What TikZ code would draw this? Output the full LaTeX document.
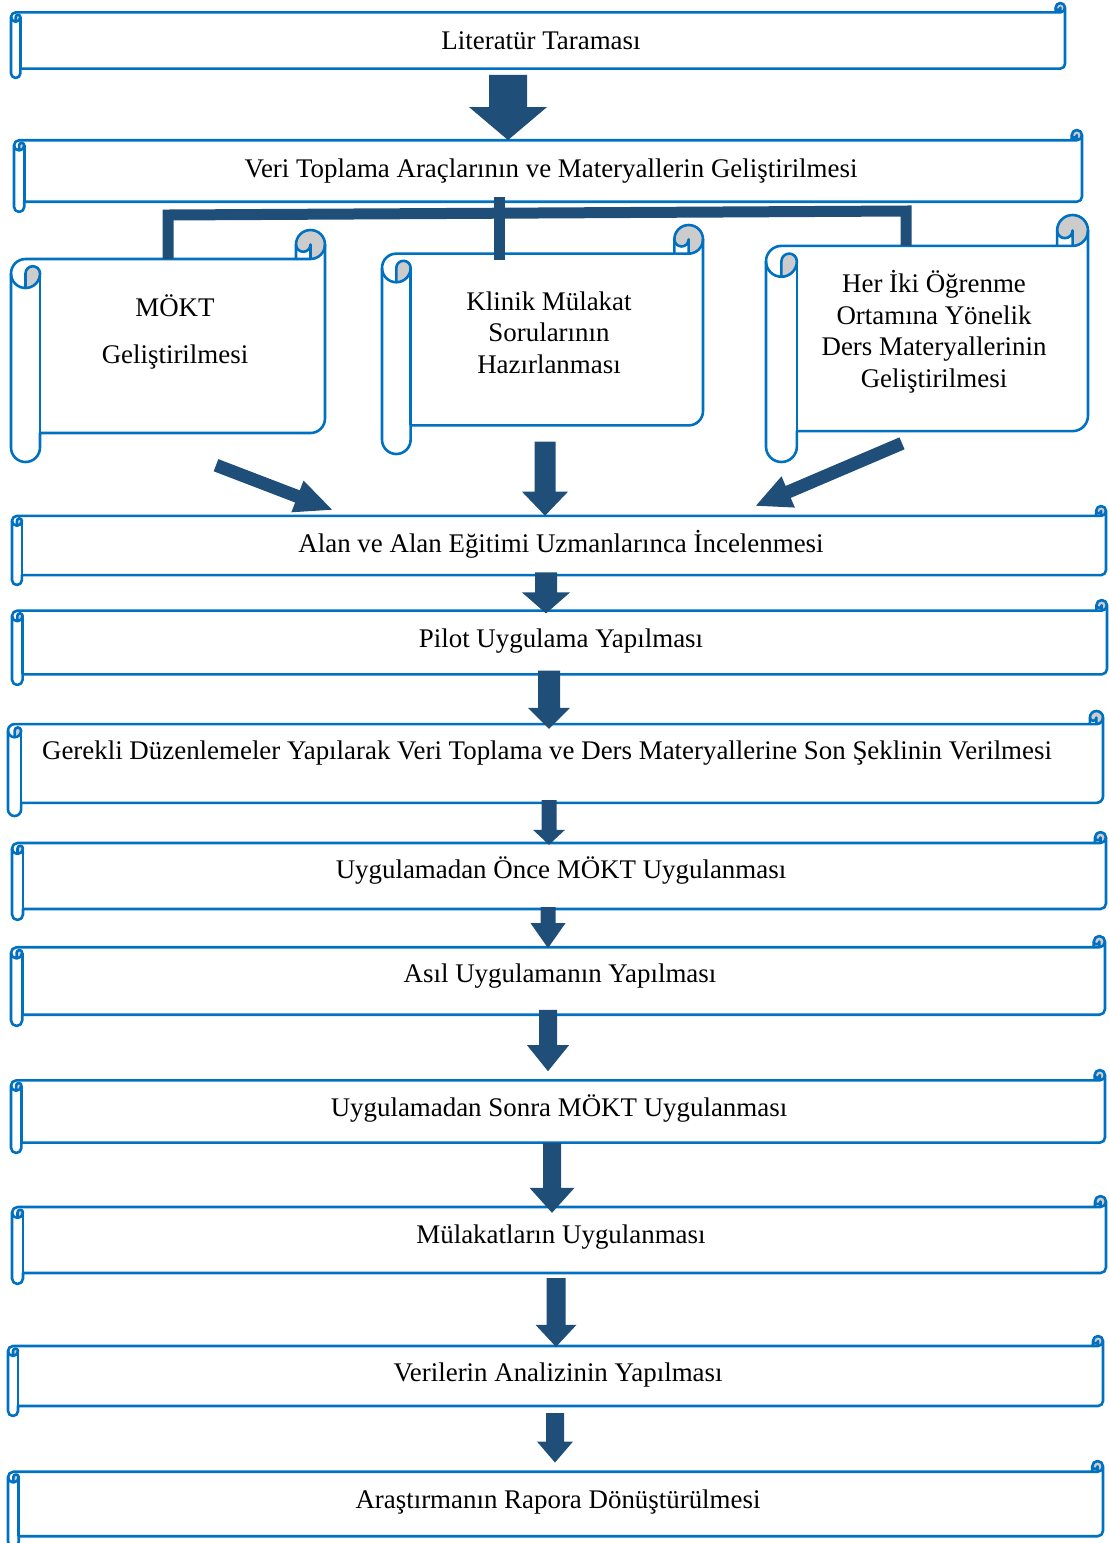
\documentclass[tikz,border=0pt]{standalone}
\usepackage{fontspec}
\setmainfont{Liberation Serif}
\usetikzlibrary{calc}

\definecolor{scrollblue}{RGB}{0,112,192}
\definecolor{arrowblue}{RGB}{31,78,121}
\definecolor{curlgray}{RGB}{204,204,204}

\tikzset{
  scrollline/.style={draw=scrollblue, line width=2.6pt, line join=round},
  scrolltext/.style={font=\fontsize{26.9}{31.5}\selectfont, inner sep=0pt, anchor=base, align=center},
  bar/.style={draw=arrowblue, line width=11pt, line join=miter},
}

% Horizontal scroll: #1 name, #2 left, #3 top, #4 right, #5 bottom (y grows downwards)
\newcommand\hscroll[5]{%
  \pgfmathsetmacro\scL{#2}\pgfmathsetmacro\scT{#3}%
  \pgfmathsetmacro\scR{#4}\pgfmathsetmacro\scB{#5}%
  \pgfmathsetmacro\scC{min(\scR-\scL,\scB-\scT)/8}%
  \pgfmathsetmacro\scH{\scC/2}\pgfmathsetmacro\scQ{\scC/4}%
  \pgfmathsetmacro\scYa{\scT+\scH}%
  \pgfmathsetmacro\scYb{\scT+\scC}%
  \pgfmathsetmacro\scYc{\scT+\scC+\scH}%
  \pgfmathsetmacro\scYd{\scT+2*\scC}%
  \pgfmathsetmacro\scYf{\scB-\scC}%
  \pgfmathsetmacro\scYg{\scB-\scH}%
  \pgfmathsetmacro\scYe{\scYf-\scH}%
  \pgfmathsetmacro\scXa{\scL+\scH}%
  \pgfmathsetmacro\scXb{\scL+\scC}%
  \pgfmathsetmacro\scXc{\scR-\scC}%
  \pgfmathsetmacro\scXd{\scR-\scH}%
  \pgfmathsetmacro\scW{\scR-\scXb}%
  \pgfmathsetmacro\scHt{\scYf-\scYb}%
  \pgfmathsetmacro\scMx{(\scR+\scXb)/2}%
  \pgfmathsetmacro\scMy{(\scYf+\scYb)/2}%
  % rolled-back paper
  \fill[curlgray] (\scXa,\scYd) -- (\scXa,\scYc)
     arc[start angle=180,delta angle=180,radius=\scQ]
     arc[start angle=0,delta angle=90,radius=\scH] -- cycle;
  \fill[curlgray] (\scXd,\scYb)
     arc[start angle=90,delta angle=-90,radius=\scH]
     arc[start angle=0,delta angle=-180,radius=\scH]
     arc[start angle=180,delta angle=-180,radius=\scQ] -- cycle;
  % outline of the sheet
  \draw[scrollline] (\scL,\scYc) arc[start angle=180,delta angle=90,radius=\scH]
     -- (\scXc,\scYb) -- (\scXc,\scYa) arc[start angle=180,delta angle=180,radius=\scH]
     -- (\scR,\scYe) arc[start angle=0,delta angle=90,radius=\scH]
     -- (\scXb,\scYf) -- (\scXb,\scYg) arc[start angle=0,delta angle=180,radius=\scH] -- cycle;
  % right roll
  \draw[scrollline] (\scXc,\scYb) -- (\scXd,\scYb) arc[start angle=90,delta angle=-90,radius=\scH];
  \draw[scrollline] (\scXd,\scYb) -- (\scXd,\scYa) arc[start angle=0,delta angle=180,radius=\scQ];
  % left roll
  \draw[scrollline] (\scXa,\scYd) -- (\scXa,\scYc)
     arc[start angle=180,delta angle=180,radius=\scQ]
     arc[start angle=0,delta angle=180,radius=\scH];
  \draw[scrollline] (\scXb,\scYc) -- (\scXb,\scYf);
  \node[inner sep=0pt, minimum width=\scW pt, minimum height=\scHt pt] (#1) at (\scMx,\scMy) {};
}

% Block arrow: #1 start, #2 tip, #3 half shaft width, #4 half head width, #5 head length
\newcommand\blockarrow[5]{%
  \path (#1) coordinate (ba-s) (#2) coordinate (ba-e);
  \path ($(ba-e)!#5!(ba-s)$) coordinate (ba-h);
  \fill[arrowblue] ($(ba-s)!#3!90:(ba-e)$) -- ($(ba-h)!#3!90:(ba-e)$)
     -- ($(ba-h)!#4!90:(ba-e)$) -- (ba-e) -- ($(ba-h)!#4!-90:(ba-e)$)
     -- ($(ba-h)!#3!-90:(ba-e)$) -- ($(ba-s)!#3!-90:(ba-e)$) -- cycle;
}

\begin{document}
\begin{tikzpicture}[x=1pt, y=-1pt]
\useasboundingbox (0,0) rectangle (1109,1543);

% sheets
\hscroll{b1}{11}{3}{1065}{78}
\hscroll{b2}{14}{130}{1082}{212}
\hscroll{v1}{11}{230}{325}{462}
\hscroll{v2}{382}{225}{703}{454}
\hscroll{v3}{766}{215}{1088}{462}
\hscroll{b3}{12}{506}{1106}{585}
\hscroll{b4}{12}{600}{1107}{685}
\hscroll{b5}{8}{711}{1103}{816}
\hscroll{b6}{12}{832}{1106}{920}
\hscroll{b7}{11}{936}{1105}{1026}
\hscroll{b8}{11}{1070}{1105}{1153}
\hscroll{b9}{12}{1196}{1106}{1284}
\hscroll{b10}{8}{1336}{1103}{1416}
\hscroll{b11}{8}{1461}{1103}{1547}

% labels (multi-line labels sit on the baseline of their last line)
\node[scrolltext] (t1) at (541,49) {Literatür Taraması};
\node[scrolltext] (t2) at (551,177) {Veri Toplama Araçlarının ve Materyallerin Geliştirilmesi};
\node[scrolltext] (tv1) at (175,363) {MÖKT\\[15.5pt]Geliştirilmesi};
\node[scrolltext] (tv2) at (549,373) {Klinik Mülakat\\Sorularının\\Hazırlanması};
\node[scrolltext] (tv3) at (934,387) {Her İki Öğrenme\\Ortamına Yönelik\\Ders Materyallerinin\\Geliştirilmesi};
\node[scrolltext] (t3) at (561,552) {Alan ve Alan Eğitimi Uzmanlarınca İncelenmesi};
\node[scrolltext] (t4) at (561,647) {Pilot Uygulama Yapılması};
\node[scrolltext] (t5) at (547,759) {Gerekli Düzenlemeler Yapılarak Veri Toplama ve Ders Materyallerine Son Şeklinin Verilmesi};
\node[scrolltext] (t6) at (561,878) {Uygulamadan Önce MÖKT Uygulanması};
\node[scrolltext] (t7) at (560,982) {Asıl Uygulamanın Yapılması};
\node[scrolltext] (t8) at (559,1116) {Uygulamadan Sonra MÖKT Uygulanması};
\node[scrolltext] (t9) at (561,1243) {Mülakatların Uygulanması};
\node[scrolltext] (t10) at (558,1381) {Verilerin Analizinin Yapılması};
\node[scrolltext] (t11) at (558,1508) {Araştırmanın Rapora Dönüştürülmesi};

% bracket joining the three preparation sheets
\draw[bar] (v1.north -| 168,0) -- (168,215) -- (906,211) -- (v3.north -| 906,0);
\draw[bar, shorten <=-5pt, shorten >=-7pt] (b2.south -| 499,0) -- (v2.north -| 499,0);

% block arrows
\blockarrow{$(b1.south -| 508,0)+(0,6)$}{b2.north -| 508,0}{19pt}{39pt}{33pt}
\blockarrow{$(v1.south -| 216,0)+(0,32)$}{$(b3.north -| 332,0)+(0,-6)$}{6.5pt}{17pt}{37pt}
\blockarrow{$(v2.south -| 545,0)+(0,16)$}{b3.north -| 545,0}{10.5pt}{23pt}{24pt}
\blockarrow{$(v3.south -| 902,0)+(0,12)$}{$(b3.north -| 756,0)+(0,-10)$}{6.5pt}{17pt}{35pt}
\blockarrow{$(b3.south -| 546,0)+(0,-3)$}{$(b4.north -| 546,0)+(0,3)$}{11pt}{24pt}{21pt}
\blockarrow{$(b4.south -| 549,0)+(0,-4)$}{$(b5.north -| 549,0)+(0,5)$}{11pt}{21pt}{21pt}
\blockarrow{$(b5.south -| 549,0)+(0,-3)$}{$(b6.north -| 549,0)+(0,2)$}{7.5pt}{16pt}{15pt}
\blockarrow{$(b6.south -| 548,0)+(0,-2)$}{$(b7.north -| 548,0)+(0,1)$}{7.5pt}{17.5pt}{25pt}
\blockarrow{$(b7.south -| 548,0)+(0,-5)$}{$(b8.north -| 548,0)+(0,-9)$}{9pt}{21pt}{26pt}
\blockarrow{b8.south -| 552,0}{$(b9.north -| 552,0)+(0,6)$}{9pt}{22.5pt}{25pt}
\blockarrow{$(b9.south -| 556,0)+(0,5)$}{$(b10.north -| 556,0)+(0,1)$}{9.5pt}{20.5pt}{22pt}
\blockarrow{$(b10.south -| 555,0)+(0,7)$}{$(b11.north -| 555,0)+(0,-9)$}{9pt}{18pt}{21pt}
\end{tikzpicture}
\end{document}
